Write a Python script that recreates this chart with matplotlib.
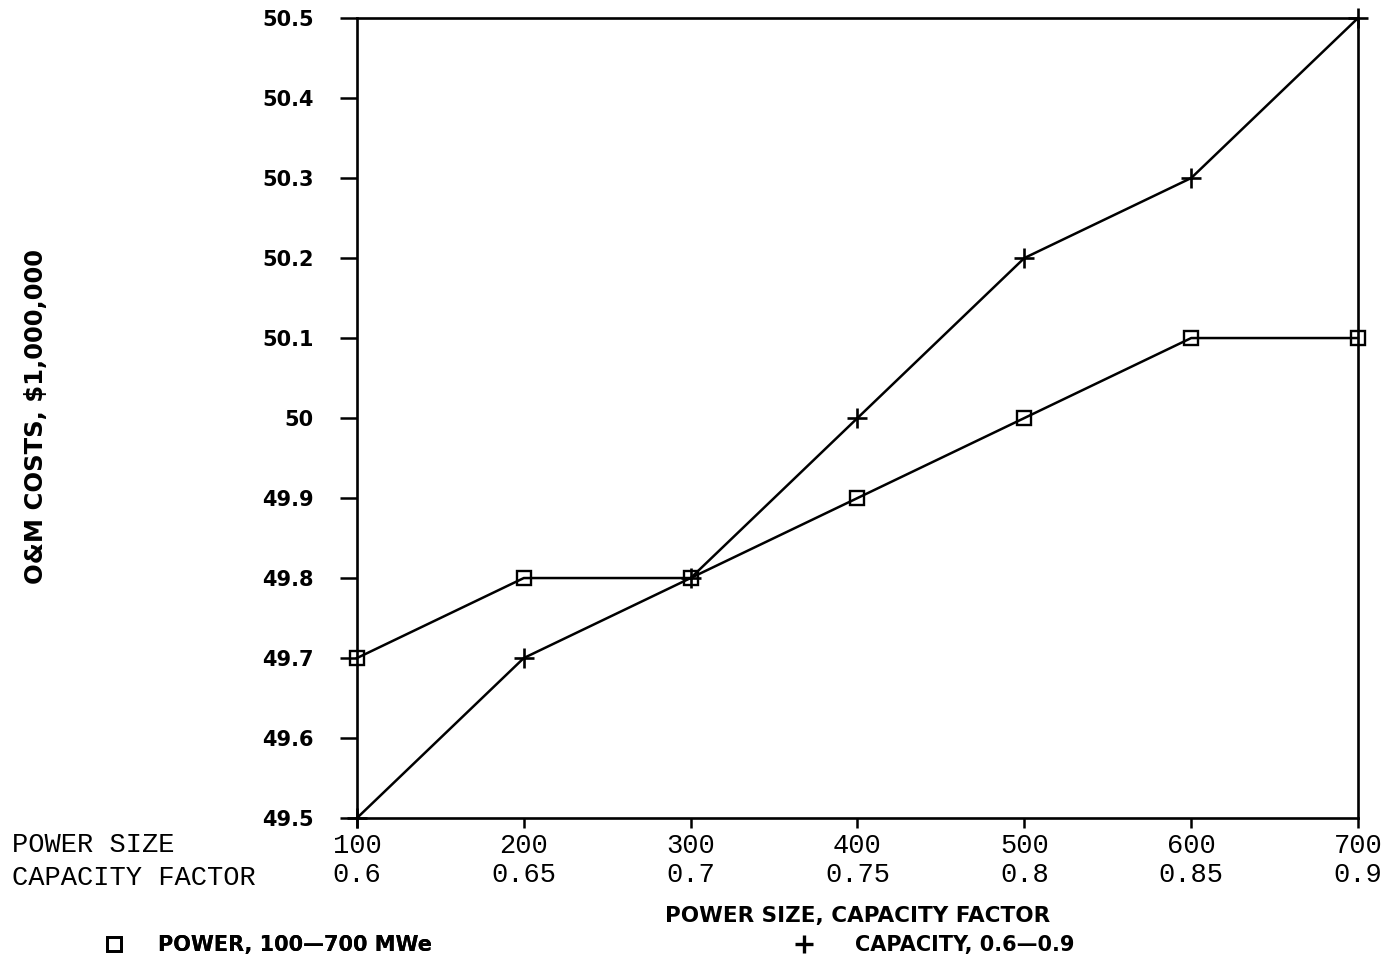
import matplotlib
matplotlib.use("Agg")
import matplotlib.pyplot as plt
from matplotlib.lines import Line2D

# data
power_size = [100, 200, 300, 400, 500, 600, 700]
capacity_factor = ["0.6", "0.65", "0.7", "0.75", "0.8", "0.85", "0.9"]
power_costs = [49.7, 49.8, 49.8, 49.9, 50.0, 50.1, 50.1]
capacity_costs = [49.5, 49.7, 49.8, 50.0, 50.2, 50.3, 50.5]
y_ticks = [49.5, 49.6, 49.7, 49.8, 49.9, 50.0, 50.1, 50.2, 50.3, 50.4, 50.5]
y_labels = ["49.5", "49.6", "49.7", "49.8", "49.9", "50", "50.1", "50.2", "50.3", "50.4", "50.5"]

bold_font = ["DejaVu Sans"]
mono_font = ["Liberation Mono", "DejaVu Sans Mono"]

fig = plt.figure(figsize=(13.89, 9.65), dpi=100)
ax = fig.add_axes([0.257, 0.1523, 0.9777 - 0.257, 0.9813 - 0.1523])

ax.plot(power_size, power_costs, color="black", lw=1.8, marker="s", ms=10.5,
        mfc="none", mec="black", mew=1.7, clip_on=False, zorder=3)
ax.plot(power_size, capacity_costs, color="black", lw=1.8, marker="+", ms=14,
        mew=1.9, clip_on=False, zorder=3)

ax.set_xlim(100, 700)
ax.set_ylim(49.5, 50.5)
ax.set_yticks(y_ticks)
ax.set_yticklabels(y_labels, family=bold_font, fontweight="bold", fontsize=15)
ax.set_xticks(power_size)
ax.set_xticklabels([f"{p}\n{c}" for p, c in zip(power_size, capacity_factor)],
                   family=mono_font, fontsize=19.5, linespacing=1.15)
ax.tick_params(axis="y", direction="out", length=12, width=1.8, pad=19)
ax.tick_params(axis="x", direction="out", length=7, width=1.8, pad=4)
for s in ax.spines.values():
    s.set_linewidth(1.9)

ax.set_ylabel("O&M COSTS, $1,000,000", family=bold_font, fontweight="bold",
              fontsize=17.5)
ax.yaxis.set_label_coords(-0.3085, 0.502)
ax.set_xlabel("POWER SIZE, CAPACITY FACTOR", family=bold_font, fontweight="bold",
              fontsize=15.5, labelpad=13)

# row headers for the two-line tick labels
fig.text(12 / 1389, 1 - 845 / 965, "POWER SIZE", family=mono_font, fontsize=19.5,
         ha="left", va="center")
fig.text(12 / 1389, 1 - 878 / 965, "CAPACITY FACTOR", family=mono_font, fontsize=19.5,
         ha="left", va="center")

# legend entries, one per series
h1 = Line2D([], [], ls="none", marker="s", ms=10, mfc="none", mec="black", mew=2)
h2 = Line2D([], [], ls="none", marker="+", ms=13, mec="black", mew=2.4)
leg_font = {"family": bold_font, "weight": "bold", "size": 15}
leg1 = fig.legend([h1], ["POWER, 100\u2014700 MWe"], loc="center left",
                  bbox_to_anchor=(100 / 1389, 1 - 945 / 965), frameon=False,
                  prop=leg_font, handlelength=1.3, handletextpad=1.5,
                  borderpad=0, borderaxespad=0)
fig.add_artist(leg1)
fig.legend([h2], ["CAPACITY, 0.6\u20140.9"], loc="center left",
           bbox_to_anchor=(790 / 1389, 1 - 945 / 965), frameon=False,
           prop=leg_font, handlelength=1.3, handletextpad=1.8,
           borderpad=0, borderaxespad=0)

fig.savefig("out.png", dpi=100)
